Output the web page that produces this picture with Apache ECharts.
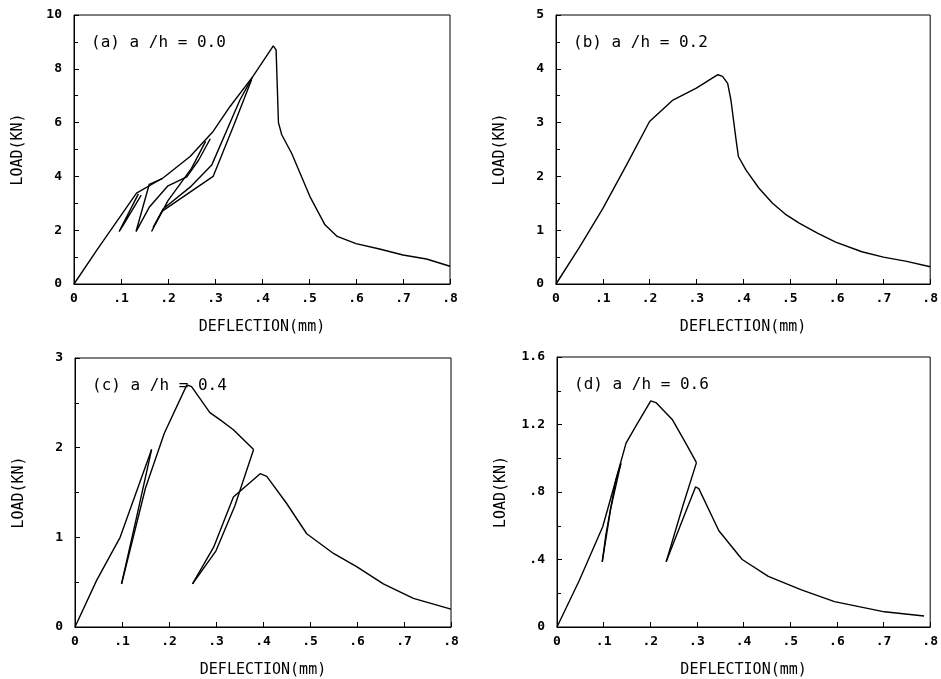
<!DOCTYPE html>
<html>
<head>
<meta charset="utf-8">
<script src="https://cdn.jsdelivr.net/npm/echarts@6/dist/echarts.min.js"></script>
<style>
  html, body { margin: 0; padding: 0; background: #fff; }
  #main { width: 941px; height: 679px; }
</style>
</head>
<body>
<div id="main"></div>
<script>
var panelTitles = ['(a) a /h = 0.0', '(b) a /h = 0.2', '(c) a /h = 0.4', '(d) a /h = 0.6'];
var xTicks = [0, 0.1, 0.2, 0.3, 0.4, 0.5, 0.6, 0.7, 0.8];
var yMax = [10, 5, 3, 1.6];
var yStep = [2, 1, 1, 0.4];

// (a) a/h = 0.0 : envelope + unloading/reloading loops
var a_env = [[0,0],[0.05,1.3],[0.133,3.38],[0.19,3.95],[0.247,4.74],[0.296,5.67],[0.332,6.6],[0.38,7.7],[0.424,8.85],[0.43,8.7],[0.435,6.0],[0.442,5.55],[0.463,4.86],[0.502,3.25],[0.534,2.2],[0.56,1.77],[0.6,1.5],[0.65,1.3],[0.7,1.08],[0.75,0.93],[0.8,0.66]];
var a_loop1 = [[0.137,3.35],[0.096,1.95],[0.105,2.2],[0.143,3.3]];
var a_loop2 = [[0.188,3.92],[0.16,3.7],[0.132,1.95],[0.16,2.85],[0.2,3.65],[0.24,3.98],[0.265,4.6],[0.29,5.4]];
var a_loop3 = [[0.28,5.3],[0.25,4.3],[0.2,3.1],[0.165,1.95],[0.19,2.8],[0.247,3.6],[0.293,4.42],[0.353,6.84],[0.38,7.7]];
var a_loop4 = [[0.378,7.6],[0.34,5.9],[0.296,4.0],[0.187,2.7],[0.168,2.1]];

// (b) a/h = 0.2
var b_env = [[0,0],[0.05,0.68],[0.1,1.4],[0.15,2.2],[0.2,3.02],[0.25,3.42],[0.3,3.64],[0.346,3.89],[0.356,3.86],[0.367,3.73],[0.374,3.42],[0.385,2.68],[0.39,2.37],[0.406,2.12],[0.434,1.78],[0.463,1.5],[0.49,1.3],[0.52,1.13],[0.56,0.94],[0.598,0.78],[0.654,0.6],[0.7,0.5],[0.75,0.42],[0.8,0.32]];

// (c) a/h = 0.4
var c_env = [[0,0],[0.046,0.52],[0.096,1.0],[0.163,1.98]];
var c_unload1 = [[0.163,1.98],[0.13,1.2],[0.099,0.48]];
var c_reload1 = [[0.099,0.48],[0.15,1.55],[0.19,2.16],[0.238,2.7],[0.248,2.68],[0.287,2.39],[0.309,2.31],[0.337,2.2],[0.38,1.98]];
var c_unload2 = [[0.38,1.98],[0.34,1.35],[0.3,0.85],[0.25,0.48]];
var c_reload2 = [[0.25,0.48],[0.295,0.89],[0.337,1.45],[0.394,1.71],[0.408,1.68],[0.45,1.38],[0.493,1.04],[0.55,0.82],[0.6,0.67],[0.656,0.48],[0.72,0.32],[0.8,0.2]];

// (d) a/h = 0.6
var d_env = [[0,0],[0.048,0.277],[0.098,0.594],[0.126,0.87],[0.137,0.97]];
var d_unload1 = [[0.137,0.97],[0.115,0.7],[0.097,0.386]];
var d_reload1 = [[0.097,0.386],[0.105,0.55],[0.126,0.87],[0.148,1.09],[0.169,1.19],[0.201,1.34],[0.212,1.33],[0.247,1.23],[0.276,1.09],[0.299,0.974]];
var d_unload2 = [[0.299,0.974],[0.27,0.72],[0.234,0.386]];
var d_reload2 = [[0.234,0.386],[0.269,0.634],[0.297,0.83],[0.304,0.82],[0.347,0.57],[0.397,0.4],[0.453,0.3],[0.524,0.22],[0.595,0.15],[0.702,0.09],[0.787,0.065]];

var curves = [
  [a_env, a_loop1, a_loop2, a_loop3, a_loop4],
  [b_env],
  [c_env, c_unload1, c_reload1, c_unload2, c_reload2],
  [d_env, d_unload1, d_reload1, d_unload2, d_reload2]
];

var myChart = echarts.init(document.getElementById('main'));
var font = 'DejaVu Sans Mono';

var grids = [
  { left: 74, top: 15, width: 376, height: 269 },
  { left: 556, top: 15, width: 376, height: 269 },
  { left: 75, top: 358, width: 376, height: 269 },
  { left: 557, top: 357, width: 376, height: 270 }
];

function trimZero(v) {
  var s = String(Math.round(v * 10) / 10);
  return s.replace(/^0\./, '.');
}

var option = {
  animation: false,
  backgroundColor: '#fff',
  title: [],
  grid: [],
  xAxis: [],
  yAxis: [],
  series: []
};

grids.forEach(function (g, i) {
  option.grid.push({
    left: g.left, top: g.top, width: g.width, height: g.height,
    show: true, borderColor: '#000', borderWidth: 1
  });
  option.title.push({
    text: panelTitles[i],
    left: g.left + 12,
    top: g.top + 15,
    textStyle: { fontFamily: font, fontSize: 16, fontWeight: 'normal', color: '#000' }
  });
  option.xAxis.push({
    type: 'value',
    gridIndex: i,
    min: 0, max: 0.8, interval: 0.1,
    name: 'DEFLECTION(mm)',
    nameLocation: 'middle',
    nameGap: 36,
    nameTextStyle: { fontFamily: font, fontSize: 15, color: '#000' },
    axisLine: { lineStyle: { color: '#000', width: 1 } },
    axisTick: { inside: true, length: 5, lineStyle: { color: '#000' } },
    splitLine: { show: false },
    axisLabel: {
      color: '#000', fontFamily: font, fontSize: 13, fontWeight: 'bold', margin: 8,
      formatter: trimZero
    }
  });
  option.yAxis.push({
    type: 'value',
    gridIndex: i,
    min: 0, max: yMax[i], interval: yStep[i],
    name: 'LOAD(KN)',
    nameLocation: 'middle',
    nameGap: 48,
    nameTextStyle: { fontFamily: font, fontSize: 15, color: '#000' },
    axisLine: { lineStyle: { color: '#000', width: 1 } },
    axisTick: { inside: true, length: 5, lineStyle: { color: '#000' } },
    minorTick: { show: true, splitNumber: 2, length: 4, lineStyle: { color: '#000' } },
    splitLine: { show: false },
    axisLabel: {
      color: '#000', fontFamily: font, fontSize: 13, fontWeight: 'bold', margin: 12,
      formatter: trimZero
    }
  });
  curves[i].forEach(function (c) {
    option.series.push({
      type: 'line',
      xAxisIndex: i,
      yAxisIndex: i,
      data: c,
      showSymbol: false,
      symbol: 'none',
      lineStyle: { color: '#000', width: 1.4 },
      silent: true
    });
  });
});

myChart.setOption(option);
window.addEventListener('resize', function () {
  myChart.resize();
});
</script>
</body>
</html>
